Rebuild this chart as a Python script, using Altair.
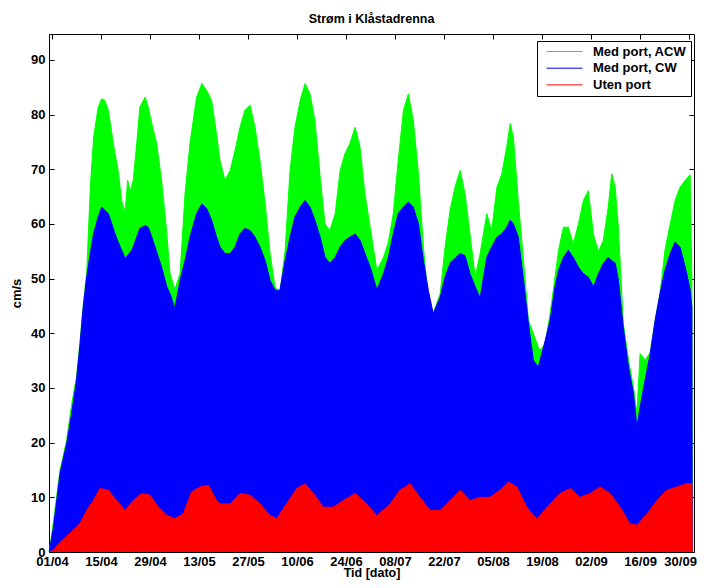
import altair as alt
import pandas as pd

# Days since 01/04 and envelope values (cm/s)
acw_day = [-0.8, 0.4, 2.3, 4.2, 5.6, 7.0, 8.0, 8.9, 9.9, 11.0, 11.9, 13.2, 14.2, 15.1, 16.1, 17.1, 18.0, 18.9, 19.9,
           20.9, 21.6, 22.4, 23.2, 24.2, 25.1, 26.6, 27.5, 28.5, 29.9, 31.3, 32.8, 33.7, 35.1, 36.6, 38.0, 39.4,
           41.3, 42.8, 44.2, 45.6, 47.0, 48.0, 49.4, 50.9, 52.3, 53.7, 55.1, 56.6, 58.0, 59.4, 60.9, 62.3, 63.7,
           65.1, 66.6, 68.0, 69.4, 70.9, 72.3, 73.7, 75.1, 76.6, 78.0, 79.4, 80.9, 82.3, 83.7, 85.1, 86.6, 88.0,
           89.4, 90.9, 92.8, 94.7, 96.1, 97.5, 98.9, 100.4, 101.8, 103.2, 104.7, 106.1, 107.5, 108.9, 110.9,
           112.3, 113.7, 115.1, 116.6, 118.0, 119.4, 120.9, 122.3, 124.2, 125.6, 127.1, 128.5, 129.9, 130.9,
           131.8, 133.2, 134.7, 136.1, 137.5, 138.9, 139.4, 140.9, 142.3, 143.7, 144.7, 146.1, 147.5, 148.9,
           150.4, 151.8, 153.2, 154.7, 156.1, 157.5, 158.9, 159.9, 160.9, 161.8, 163.2, 164.7, 166.1, 167.1,
           168.0, 169.4, 170.9, 172.3, 173.7, 175.1, 176.6, 178.0, 179.4, 180.9, 182.3, 182.8, 182.9]
acw_val = [0, 5.5, 15, 20.5, 27, 32, 38.5, 45, 51, 67.4, 75.9, 81.4, 82.9, 82.6, 80.8, 76.5, 72.9, 69.8, 64.3,
           62, 68, 66, 68, 74.7, 81.4, 83.2, 81.4, 78.4, 74.7, 68, 58.3, 51, 48, 51, 65.5, 74.7,
           83.2, 85.7, 84.4, 82.6, 76.5, 71.6, 68, 69.8, 73.5, 77.7, 80.8, 81.7, 77.7, 71.6, 63.7, 54.6, 48.5,
           47.3, 55.2, 69.8, 77.7, 82.6, 85.7, 83.8, 79, 68.6, 60, 58.8, 61.9, 69.8, 72.9, 74.7, 77.7, 74.1,
           65.5, 59.4, 51.5, 53.9, 56.7, 61.9, 71.6, 80.8, 83.8, 79, 69.2, 55.8, 46, 43.6, 47.3,
           55.8, 62.5, 66.7, 69.8, 65.5, 58.2, 50.3, 54.6, 61.9, 58.8, 66.7, 69.2, 74.1, 78.4,
           75.9, 64.3, 53.3, 42.4, 40, 37.5, 36.9, 38.1, 43.6, 50.3, 55.2, 59.4, 59.4, 56.4,
           60, 64.3, 66.1, 58, 55, 57, 63.1, 69.2, 66.7, 59.4, 41.8, 35.1, 30.2, 25.3,
           36.3, 35.1, 36.5, 42.4, 47.3, 55.2, 60, 64.3, 66.7, 68, 69, 50, 0]

cw_day = [-0.8, 0.4, 2.3, 4.2, 5.6, 7.0, 8.0, 8.9, 9.9, 11.0, 11.9, 13.2, 14.2, 15.1, 16.1, 17.1, 18.0, 18.9, 19.9,
          20.9, 22.8, 24.2, 25.1, 26.6, 27.5, 28.5, 29.9, 31.3, 32.8, 33.7, 35.1, 36.6, 38.0, 39.4, 41.3, 42.8,
          44.2, 45.6, 47.0, 48.0, 49.4, 50.9, 52.3, 53.7, 55.1, 56.6, 58.0, 59.4, 60.9, 62.3, 63.7, 65.1, 66.6,
          68.0, 69.4, 70.9, 72.3, 73.7, 75.1, 76.6, 78.0, 79.4, 80.9, 82.3, 83.7, 85.1, 86.6, 88.0, 89.4, 90.9,
          92.8, 94.7, 96.1, 97.5, 98.9, 100.4, 101.8, 103.2, 104.7, 106.1, 107.5, 108.9, 110.9, 112.3, 113.7,
          115.1, 116.6, 118.0, 119.4, 120.9, 122.3, 124.2, 125.6, 127.1, 128.5, 129.9, 130.9, 131.8, 133.2,
          134.7, 136.1, 137.5, 138.9, 140.9, 142.3, 143.7, 144.7, 146.1, 147.5, 148.9, 150.4, 151.8, 153.2,
          154.7, 156.1, 157.5, 158.9, 159.9, 160.9, 161.8, 163.2, 164.7, 166.1, 167.1, 168.0, 169.4, 170.9,
          172.3, 173.7, 175.1, 176.6, 178.0, 179.4, 180.9, 182.3, 182.8, 182.9]
cw_val = [0, 4.5, 14.4, 19.9, 25.3, 31.4, 38, 44.7, 50.3, 54.9, 58.3, 61.3, 63.1, 62.5, 61.9, 60, 58.2, 56.7, 55.2,
          53.7, 55.2, 57.6, 59.2, 59.7, 59.4, 57.6, 54.9, 52.1, 48.5, 47.3, 44.6, 49.7, 53.3, 57.6, 61.9, 63.7,
          62.8, 60.7, 57.6, 55.8, 54.6, 54.6, 55.8, 58.2, 59.2, 58.8, 57.6, 55.8, 53.3, 49.7, 47.9, 47.9, 53.3,
          57.6, 61.3, 63.1, 64.3, 63.1, 60.7, 57.6, 53.9, 52.8, 53.9, 55.8, 57, 57.6, 58.2, 57, 54.6, 52.1,
          48, 50.9, 53.9, 58.2, 61.9, 63.1, 64, 63.1, 60, 53.3, 47.9, 43.6, 46.6, 50.3, 52.8,
          53.7, 54.6, 54.2, 50.9, 48.5, 46.5, 53.9, 55.8, 57.6, 58.2, 59.4, 60.7, 60, 57.6,
          49.7, 41.8, 35.1, 33.8, 38.7, 42.4, 48.5, 51.5, 53.9, 55.2, 53.9, 52.1, 50.9, 50.3,
          48.5, 50.9, 52.8, 53.9, 53.3, 52.8, 49.7, 41.1, 33.8, 29, 22.8, 26.5, 31.4, 36.3,
          42.4, 47.3, 51.5, 54.6, 56.7, 55.8, 52.1, 48, 44.8, 0]

uten_day = [-0.8, 0.4, 2.3, 5.1, 8.0, 9.9, 11.8, 13.7, 16.1, 18.5, 20.9, 23.2, 25.6, 28.0, 30.4, 32.8, 35.1, 37.5,
            39.9, 42.3, 44.7, 47.0, 48.0, 50.9, 53.7, 56.6, 59.4, 62.3, 64.2, 67.0, 69.9, 72.3, 74.7, 77.5, 80.4,
            83.2, 86.6, 89.9, 92.8, 96.6, 99.4, 102.3, 105.1, 108.0, 110.9, 113.7, 116.6, 119.4, 122.3, 125.1,
            128.0, 130.4, 132.8, 135.6, 138.5, 142.3, 145.1, 148.0, 150.9, 153.7, 156.6, 159.4, 162.3, 165.1,
            167.1, 170.0, 172.8, 175.6, 178.5, 181.3, 182.8, 182.9]
uten_val = [0, 0.3, 1.8, 3.4, 5.2, 7.6, 9.4, 11.6, 11.3, 9.4, 7.6, 9.4, 10.7, 10.4, 8.2, 6.7, 6.1, 7,
            11, 11.9, 12.2, 9.4, 8.8, 8.8, 10.7, 10.4, 8.8, 6.7, 6.1, 8.8, 11.6, 12.5, 10.7, 8.2, 8.2,
            9.4, 10.7, 8.8, 6.6, 8.8, 11.3, 12.5, 10, 7.6, 7.6, 9.4, 11.3, 9.4, 10, 10,
            11.3, 12.8, 11.9, 8.2, 6, 8.8, 10.7, 11.6, 10, 10.7, 11.9, 10.7, 8.2, 5.2,
            4.9, 7, 9.4, 11.3, 11.9, 12.5, 12.5, 0]

series_names = ["Med port, ACW", "Med port, CW", "Uten port"]
series_colors = ["#00ff00", "#0000ff", "#ff0000"]
tick_days = [0, 14, 28, 42, 56, 70, 84, 98, 112, 126, 140, 154, 168, 182]
tick_labels = ["01/04", "15/04", "29/04", "13/05", "27/05", "10/06", "24/06",
               "08/07", "22/07", "05/08", "19/08", "02/09", "16/09", "30/09"]
y_ticks = [0, 10, 20, 30, 40, 50, 60, 70, 80, 90]

frames = []
for name, d, v in zip(series_names, [acw_day, cw_day, uten_day], [acw_val, cw_val, uten_val]):
    frames.append(pd.DataFrame({"day": d, "value": v, "series": name}))
df = pd.concat(frames, ignore_index=True)

FONT = "Liberation Sans"
label_expr = "[" + ",".join(f"'{t}'" for t in tick_labels) + "][round(datum.value/14)]"

xscale = alt.Scale(domain=[-0.86, 183.4], nice=False, zero=False)
yscale = alt.Scale(domain=[0, 94.75], nice=False, zero=False)
color_scale = alt.Scale(domain=series_names, range=series_colors)

x_bottom = alt.Axis(values=tick_days, labelExpr=label_expr, domain=False, grid=False,
                    tickSize=5, offset=-5, tickColor="black", labelPadding=3,
                    labelOffset={"condition": {"test": "datum.value > 180", "value": -9}, "value": 0},
                    labelFont=FONT, labelFontSize=13, labelFontWeight="bold", labelColor="black",
                    title="Tid [dato]", titleFont=FONT, titleFontSize=12.5, titleFontWeight="bold",
                    titleColor="black", titlePadding=-2)
y_left = alt.Axis(values=y_ticks, domain=False, grid=False, tickSize=5, offset=-5, tickColor="black",
                  labelPadding=4, labelFont=FONT, labelFontSize=13, labelFontWeight="bold",
                  labelColor="black", title="cm/s", titleFont=FONT, titleFontSize=13,
                  titleFontWeight="bold", titleColor="black", titlePadding=7)

legend = alt.Legend(orient="none", legendX=488, legendY=7,
                    fillColor="white", strokeColor="black", padding=4,
                    symbolType="M-3.6,0H3.6", symbolSize=100, symbolStrokeWidth=1,
                    symbolOffset=17, labelOffset=22, rowPadding=2.7,
                    labelFont=FONT, labelFontSize=13,
                    labelFontWeight="bold", labelColor="black")

layers = []
for i, (name, col) in enumerate(zip(series_names, series_colors)):
    sub = alt.Chart(df).transform_filter(alt.datum.series == name)
    xa = x_bottom if i == 0 else None
    ya = y_left if i == 0 else None
    area = sub.mark_area(interpolate="linear", color=col).encode(
        x=alt.X("day:Q", scale=xscale, axis=xa),
        y=alt.Y("value:Q", scale=yscale, axis=ya, stack=None),
    )
    line = sub.mark_line(strokeWidth=1, interpolate="linear").encode(
        x=alt.X("day:Q", scale=xscale, axis=None),
        y=alt.Y("value:Q", scale=yscale, axis=None),
        color=alt.Color("series:N", scale=color_scale, legend=legend, title=None),
    )
    layers += [area, line]

mirror = alt.Chart(df).mark_point(opacity=0).encode(
    x=alt.X("day:Q", scale=xscale,
            axis=alt.Axis(orient="top", values=tick_days, labels=False, domain=False, grid=False,
                          tickSize=5, offset=-5, tickColor="black", title=None)),
    y=alt.Y("value:Q", scale=yscale,
            axis=alt.Axis(orient="right", values=y_ticks, labels=False, domain=False, grid=False,
                          tickSize=5, offset=-5, tickColor="black", title=None)),
)
layers.insert(1, mirror)

chart = alt.layer(*layers).resolve_axis(x="independent", y="independent").properties(
    width=645, height=518,
    autosize=alt.AutoSizeParams(type="none"),
    padding={"left": 41, "top": 26, "right": 4, "bottom": 28},
    title=alt.TitleParams("Strøm i Klåstadrenna", font=FONT, fontSize=12.5, fontWeight="bold",
                          color="black", offset=8, anchor="middle"),
    background="white",
).configure_view(stroke="black", strokeWidth=1)

chart.save("out.html", embed_options={"renderer": "svg", "actions": False})
